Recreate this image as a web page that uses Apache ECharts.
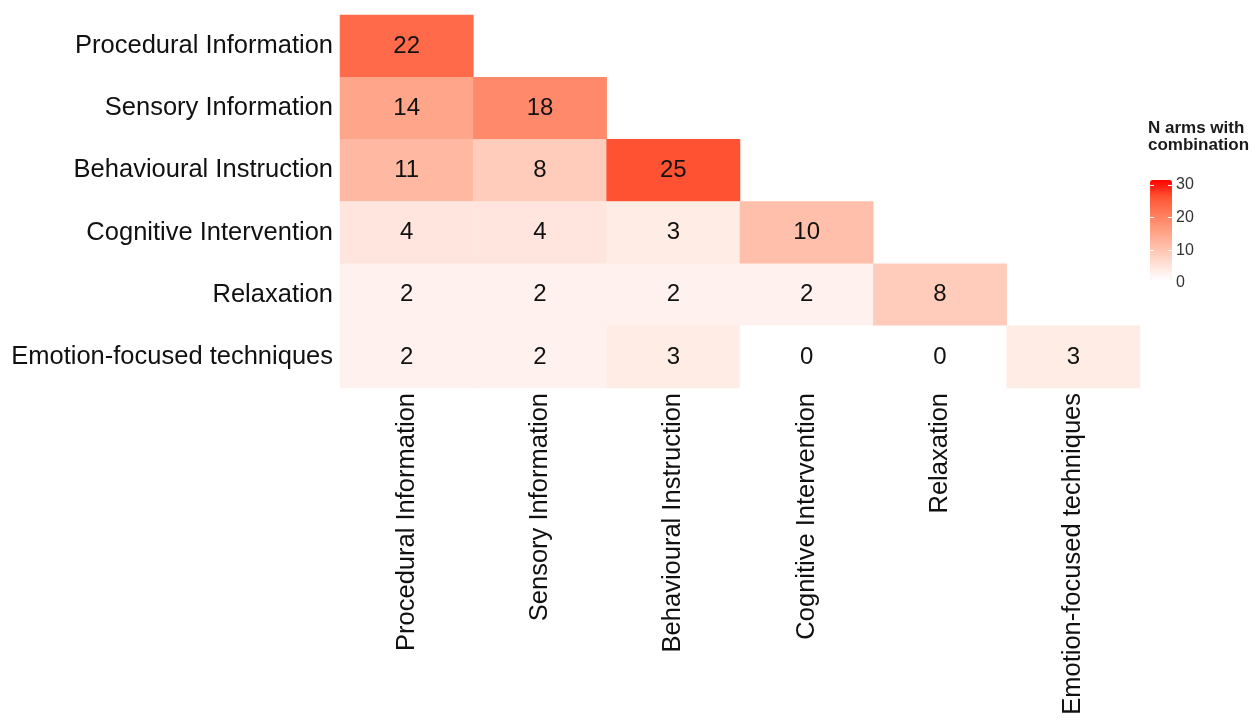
<!DOCTYPE html>
<html>
<head>
<meta charset="utf-8">
<script src="https://cdn.jsdelivr.net/npm/echarts@6/dist/echarts.min.js"></script>
<style>
html,body{margin:0;padding:0;background:#fff;}
#chart{width:1255px;height:721px;}
</style>
</head>
<body>
<div id="chart"></div>
<script>
// ---- data ----
const categories = ['Procedural Information','Sensory Information','Behavioural Instruction','Cognitive Intervention','Relaxation','Emotion-focused techniques'];
const procedural = [22];
const sensory = [14, 18];
const behavioural = [11, 8, 25];
const cognitive = [4, 4, 3, 10];
const relaxation = [2, 2, 2, 2, 8];
const emotion = [2, 2, 3, 0, 0, 3];
const legendTitle = 'N arms with\ncombination';
const scaleMin = 0, scaleMax = 30, scaleStep = 10;
const scaleColors = ['#FFFFFF','#FFDFD4','#FFBFAA','#FF9E81','#FF7B5A','#FF5232','#FF0000'];

const rowsValues = [procedural, sensory, behavioural, cognitive, relaxation, emotion];
const cells = [];
rowsValues.forEach((vals, r) => vals.forEach((v, c) => cells.push([c, r, v])));

const FONT = '"Liberation Sans", Arial, sans-serif';
const chart = echarts.init(document.getElementById('chart'));
chart.setOption({
  backgroundColor: '#ffffff',
  animation: false,
  title: {
    text: legendTitle,
    left: 1148, top: 120,
    padding: 0,
    textStyle: {fontFamily: FONT, fontSize: 17, fontWeight: 'bold', color: '#1a1a1a', lineHeight: 17}
  },
  grid: [
    {left: 340, top: 15, width: 800, height: 373, containLabel: false, outerBoundsMode: 'none'},
    {left: 1150, top: 185, width: 22, height: 98, containLabel: false, outerBoundsMode: 'none'}
  ],
  xAxis: [
    {
      type: 'category', data: categories, gridIndex: 0, position: 'bottom',
      axisLine: {show: false}, axisTick: {show: false}, splitLine: {show: false},
      axisLabel: {rotate: 90, margin: 5, fontSize: 25.5, fontFamily: FONT, color: '#111'}
    },
    {type: 'category', data: ['a'], gridIndex: 1, show: false}
  ],
  yAxis: [
    {
      type: 'category', data: categories, gridIndex: 0, inverse: true,
      axisLine: {show: false}, axisTick: {show: false}, splitLine: {show: false},
      axisLabel: {margin: 7, fontSize: 25.5, fontFamily: FONT, color: '#111'}
    },
    {
      type: 'value', gridIndex: 1, min: scaleMin, max: scaleMax, interval: scaleStep, position: 'right', z: 10,
      axisLine: {show: false}, splitLine: {show: false},
      axisTick: {show: true, inside: true, length: 4, lineStyle: {color: '#fff', width: 1}},
      axisLabel: {margin: 4, fontSize: 16, fontFamily: FONT, color: '#333'}
    },
    {
      type: 'value', gridIndex: 1, min: scaleMin, max: scaleMax, interval: scaleStep, position: 'left', z: 10,
      axisLine: {show: false}, splitLine: {show: false},
      axisTick: {show: true, inside: true, length: 4, lineStyle: {color: '#fff', width: 1}},
      axisLabel: {show: false}
    }
  ],
  visualMap: {
    type: 'continuous', min: scaleMin, max: scaleMax, seriesIndex: 0, dimension: 2,
    left: 1150, top: 180, itemWidth: 22, itemHeight: 100, padding: 0,
    calculable: false, hoverLink: false, text: null, showLabel: false,
    inRange: {color: scaleColors},
    textStyle: {color: 'transparent'}
  },
  series: [
    {
      type: 'heatmap', xAxisIndex: 0, yAxisIndex: 0, data: cells,
      label: {show: true, fontSize: 24, fontFamily: FONT, color: '#111', formatter: p => p.value[2]},
      itemStyle: {borderWidth: 0},
      emphasis: {disabled: true}
    },
    {type: 'scatter', xAxisIndex: 1, yAxisIndex: 1, data: [], silent: true}
  ]
});
</script>
</body>
</html>
